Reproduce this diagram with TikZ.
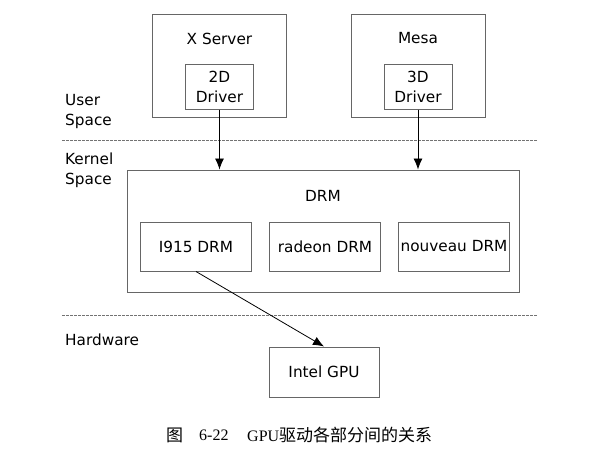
\documentclass[tikz,border=0pt]{standalone}
\usepackage{fontspec}
\setmainfont{DejaVu Sans}
\newfontfamily\cjk{Noto Sans CJK SC}
\newfontfamily\capserif{Liberation Serif}
\usepackage{tikz}
\usetikzlibrary{arrows.meta,positioning,calc}

\begin{document}
\begin{tikzpicture}[
    x=1pt, y=-1pt,
    font=\fontsize{15.3}{20}\selectfont,
    outer/.style={draw=black!60, line width=1pt, inner sep=0pt},
    inner/.style={draw=black!60, line width=1pt, align=center, inner sep=0pt, minimum width=111pt, minimum height=49pt},
    driver/.style={draw=black!60, line width=1pt, align=center, inner sep=0pt, minimum width=68pt, minimum height=45pt},
    layer/.style={anchor=west, align=left, inner sep=0pt},
    sep/.style={draw=black!55, line width=0.8pt, dash pattern=on 2.5pt off 1.5pt},
    arrow/.style={-{Latex[length=11pt,width=9pt]}, line width=0.8pt}
]
\useasboundingbox (0,0) rectangle (606,450);
% user space
\node[outer, minimum width=134pt, minimum height=103pt] (xsrv) at (219.5,65.5) {};
\node[outer, minimum width=134pt, minimum height=103pt] (mesa) at (418,65.5) {};
\node[inner sep=0pt] (xsrvlbl) at (219.5,38.5) {X Server};
\node[inner sep=0pt] (mesalbl) at (418,38.5) {Mesa};
\node[driver] (drv2d) at (219.5,86.5) {2D\\Driver};
\node[driver] (drv3d) at (418,86.5) {3D\\Driver};
% layer labels
\node[layer] (user) at (65,112) {User\\Space};
\node[layer] (kernel) at (65,170.5) {Kernel\\Space};
\node[layer] (hw) at (65,340) {Hardware};
\coordinate (sepA) at (62,140);
\coordinate (sepB) at (538,140);
\coordinate (sepC) at (62,315);
\coordinate (sepD) at (538,315);
\draw[sep] (sepA) -- (sepB);
\draw[sep] (sepC) -- (sepD);
% kernel space
\node[outer, minimum width=392pt, minimum height=122pt] (drm) at (323,231) {};
\node[inner sep=0pt] (drmlbl) at (323,196) {DRM};
\node[inner] (i915) at (196,246.5) {I915 DRM};
\node[inner, right=17pt of i915] (radeon) {radeon DRM};
\node[inner, right=17pt of radeon] (nouveau) {nouveau DRM};
% hardware
\node[inner, minimum width=110pt, minimum height=50pt] (gpu) at (324,372) {Intel GPU};
\draw[arrow] (drv2d.south) -- (drv2d.south |- drm.north);
\draw[arrow] (drv3d.south) -- (drv3d.south |- drm.north);
\draw[arrow] (i915.south) -- (gpu.north);
% caption
\node[anchor=west, inner sep=0pt, font=\fontsize{17}{20}\cjk] (capfig) at (166,435) {图};
\node[anchor=west, inner sep=0pt, font=\fontsize{16}{20}\capserif] (capnum) at (199,435) {6-22};
\node[anchor=west, inner sep=0pt, font=\fontsize{16}{20}\capserif] (captxt) at (247,435) {GPU{\cjk\fontsize{17}{20}\selectfont 驱动各部分间的关系}};
\end{tikzpicture}
\end{document}
